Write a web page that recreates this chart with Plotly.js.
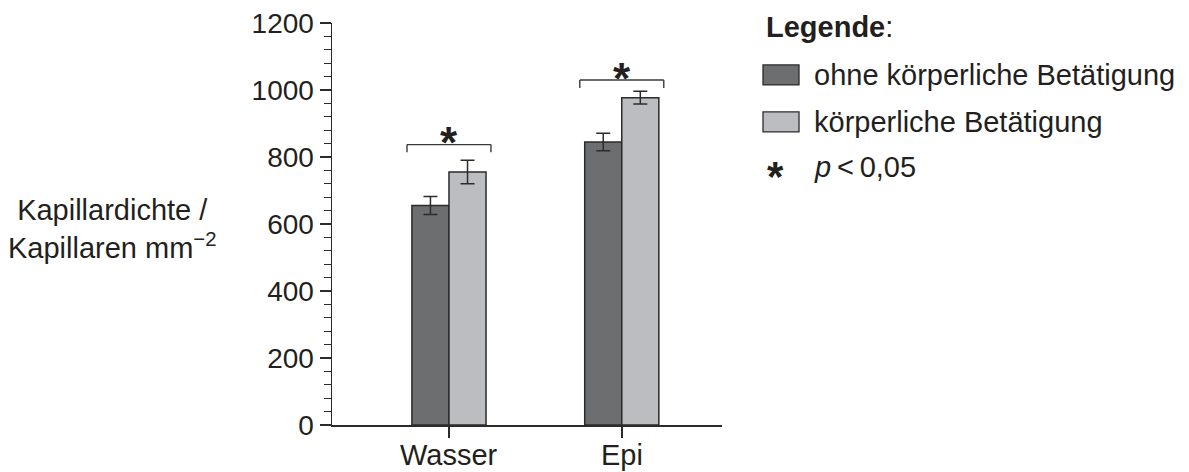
<!DOCTYPE html>
<html>
<head>
<meta charset="utf-8">
<script src="https://cdn.plot.ly/plotly-3.0.1.min.js"></script>
<style>html,body{margin:0;padding:0;background:#fff;}#chart{width:1189px;height:472px;}</style>
</head>
<body>
<div id="chart"></div>
<script>
// ---- data ----
const categories = ["Wasser", "Epi"];
const seriesNames = ["ohne körperliche Betätigung", "körperliche Betätigung"];
const ohneValues = [655, 845];
const ohneErrors = [27, 26];
const mitValues = [755, 977];
const mitErrors = [35, 19];
const bracketTop = [837, 1030];
const bracketLegBottom = [814, 1006];
const sigMarkerY = [872, 1063];
const yTickValues = [0, 200, 400, 600, 800, 1000, 1200];
const yTickLabels = ["0", "200", "400", "600", "800", "1000", "1200"];

const FONT = "Liberation Sans, Arial, Helvetica, sans-serif";
const TXT = "#231f20";
const LINE = "#2b2b2b";
const DARK = "#6d6e70";
const LIGHT = "#bcbdc0";

// plot area in pixels
const W = 1189, H = 472;
const L = 332, R = 722, T = 23, B = 425.3;
const px = x => (x - L) / (R - L);
const py = y => (B - y) / (B - T);

const traces = [
  {
    type: "bar", name: seriesNames[0], x: categories, y: ohneValues,
    marker: {color: DARK, line: {color: LINE, width: 1.5}},
    error_y: {type: "data", array: ohneErrors, visible: true, color: LINE, thickness: 1.5, width: 7},
    showlegend: false, hoverinfo: "none"
  },
  {
    type: "bar", name: seriesNames[1], x: categories, y: mitValues,
    marker: {color: LIGHT, line: {color: LINE, width: 1.5}},
    error_y: {type: "data", array: mitErrors, visible: true, color: LINE, thickness: 1.5, width: 7},
    showlegend: false, hoverinfo: "none"
  }
];

const shapes = [];
const annotations = [];
const hw = 0.243;
categories.forEach((c, i) => {
  const lineStyle = {color: "#3a3a3a", width: 1.4};
  shapes.push({type: "line", xref: "x", yref: "y", x0: i - hw, x1: i + hw, y0: bracketTop[i], y1: bracketTop[i], line: lineStyle});
  shapes.push({type: "line", xref: "x", yref: "y", x0: i - hw, x1: i - hw, y0: bracketTop[i], y1: bracketLegBottom[i], line: lineStyle});
  shapes.push({type: "line", xref: "x", yref: "y", x0: i + hw, x1: i + hw, y0: bracketTop[i], y1: bracketLegBottom[i], line: lineStyle});
  annotations.push({xref: "x", yref: "y", x: i, y: sigMarkerY[i], text: "<b>*</b>", showarrow: false,
    font: {family: FONT, size: 44, color: TXT}, xanchor: "center", yanchor: "middle", yshift: -10});
  // category label under the axis
  annotations.push({xref: "x", yref: "paper", x: i, y: py(438), text: c, showarrow: false,
    font: {family: FONT, size: 29, color: TXT}, xanchor: "center", yanchor: "top", borderpad: 0});
});

// y axis title (horizontal, two lines)
annotations.push({xref: "paper", yref: "paper", x: px(112), y: py(229), xanchor: "center", yanchor: "middle",
  text: "Kapillardichte /<br>Kapillaren mm<sup>−2</sup>", showarrow: false, align: "center",
  font: {family: FONT, size: 29, color: TXT}});

// legend
annotations.push({xref: "paper", yref: "paper", x: px(764), y: py(27), xanchor: "left", yanchor: "middle",
  text: "<b>Legende</b>:", showarrow: false, font: {family: FONT, size: 29, color: TXT}});
const legendRows = [{c: DARK, y: 75, t: seriesNames[0]}, {c: LIGHT, y: 122, t: seriesNames[1]}];
legendRows.forEach(r => {
  shapes.push({type: "rect", xref: "paper", yref: "paper", x0: px(763), x1: px(799), y0: py(r.y - 10), y1: py(r.y + 10),
    fillcolor: r.c, line: {color: LINE, width: 1.3}});
  annotations.push({xref: "paper", yref: "paper", x: px(812), y: py(r.y), xanchor: "left", yanchor: "middle",
    text: r.t, showarrow: false, font: {family: FONT, size: 29, color: TXT}});
});
annotations.push({xref: "paper", yref: "paper", x: px(775), y: py(168), xanchor: "center", yanchor: "middle",
  text: "<b>*</b>", showarrow: false, font: {family: FONT, size: 42, color: TXT}, yshift: -9});
annotations.push({xref: "paper", yref: "paper", x: px(812), y: py(167), xanchor: "left", yanchor: "middle",
  text: "<i>p</i>\u2009&lt;\u20090,05", showarrow: false, font: {family: FONT, size: 29, color: TXT}});

const layout = {
  width: W, height: H,
  margin: {l: L, r: W - R, t: T, b: H - B, pad: 0},
  paper_bgcolor: "#fff", plot_bgcolor: "#fff",
  barmode: "group", bargap: 0.571, bargroupgap: 0,
  showlegend: false,
  font: {family: FONT, color: TXT, size: 28},
  xaxis: {
    type: "category", range: [-0.677, 1.58],
    showline: true, linecolor: LINE, linewidth: 1.5,
    ticks: "outside", ticklen: 11, tickwidth: 1.5, tickcolor: LINE,
    showticklabels: false,
    showgrid: false, zeroline: false, fixedrange: true
  },
  yaxis: {
    range: [0, 1200], tickvals: yTickValues, ticktext: yTickLabels,
    showline: true, linecolor: LINE, linewidth: 1.5,
    ticks: "outside", ticklen: 11, tickwidth: 1.5, tickcolor: LINE,
    minor: {dtick: 40, ticks: "outside", ticklen: 7, tickwidth: 1.3, tickcolor: LINE, showgrid: false},
    showgrid: false, zeroline: false, fixedrange: true,
    tickfont: {family: FONT, size: 28, color: TXT}
  },
  shapes: shapes,
  annotations: annotations
};

Plotly.newPlot("chart", traces, layout, {displayModeBar: false, staticPlot: true});
</script>
</body>
</html>
